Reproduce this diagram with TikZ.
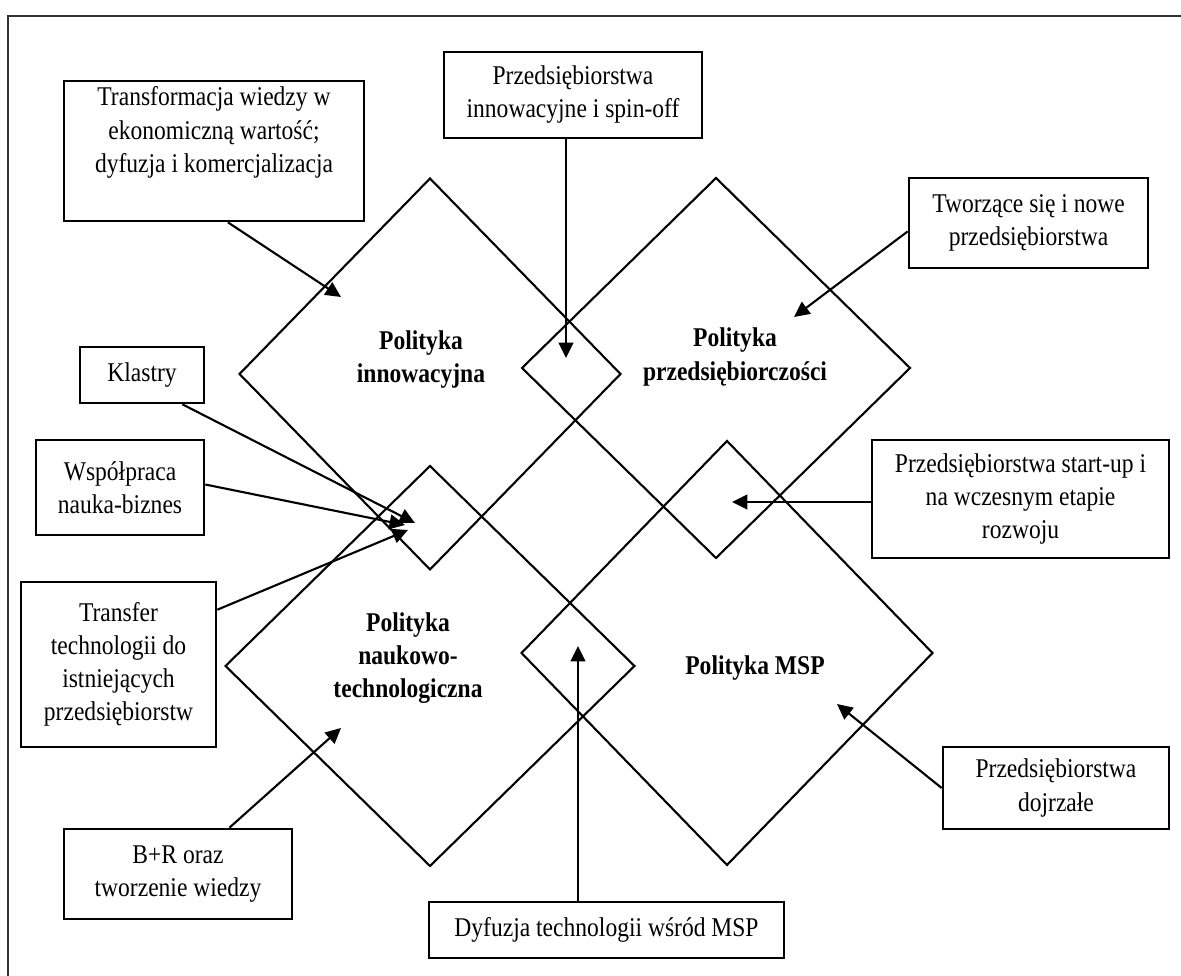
\documentclass[tikz,border=0pt]{standalone}
\usepackage{fontspec}
\setmainfont{Liberation Serif}[FakeStretch=0.87]
\usetikzlibrary{shapes.geometric, arrows.meta}

\begin{document}
\begin{tikzpicture}[font=\fontsize{7.7}{9.4}\selectfont,
  blok/.style={draw, line width=0.75pt, rectangle, inner sep=0pt, align=center},
  romb/.style={draw, line width=0.6pt, diamond, inner sep=0pt, outer sep=0pt},
  napis/.style={font=\fontsize{7.7}{9.4}\selectfont\bfseries, align=center},
  strzalka/.style={-{Triangle[length=4.4pt, width=4.2pt]}, line width=0.6pt}]
  \useasboundingbox (0,0) rectangle (11.81,9.76);
  % ramka
  \draw[black!80, line width=0.7pt] (0.08,0) -- (0.08,9.60) -- (11.81,9.60);
  % cztery polityki
  \node[romb, minimum width=3.81cm, minimum height=3.91cm] (inn) at (4.30,6.02) {};
  \node[romb, minimum width=3.88cm, minimum height=3.80cm] (prz) at (7.16,6.08) {};
  \node[romb, minimum width=4.09cm, minimum height=4.00cm] (nauk) at (4.30,3.10) {};
  \node[romb, minimum width=4.11cm, minimum height=4.24cm] (msp) at (7.27,3.23) {};
  \node[napis] (innT) at (4.21,6.16) {Polityka\\innowacyjna};
  \node[napis] (przT) at (7.35,6.19) {Polityka\\przedsiębiorczości};
  \node[napis] (naukT) at (4.08,3.18) {Polityka\\naukowo-\\technologiczna};
  \node[napis] (mspT) at (7.55,3.08) {Polityka MSP};
  % bloki
  \node[blok, minimum width=3.00cm, minimum height=1.40cm] (trans) at (2.14,8.25)
    {Transformacja wiedzy w\\ekonomiczną wartość;\\dyfuzja i komercjalizacja\\\strut};
  \node[blok, minimum width=2.58cm, minimum height=0.86cm] (spin) at (5.73,8.81)
    {Przedsiębiorstwa\\innowacyjne i spin-off};
  \node[blok, minimum width=2.39cm, minimum height=0.90cm] (nowe) at (10.285,7.53)
    {Tworzące się i nowe\\przedsiębiorstwa};
  \node[blok, minimum width=1.24cm, minimum height=0.56cm] (klastry) at (1.42,6.01) {Klastry};
  \node[blok, minimum width=1.68cm, minimum height=0.95cm] (wspol) at (1.20,4.885)
    {Współpraca\\nauka-biznes};
  \node[blok, minimum width=1.95cm, minimum height=1.65cm] (transfer) at (1.185,3.115)
    {Transfer\\technologii do\\istniejących\\przedsiębiorstw};
  \node[blok, minimum width=2.97cm, minimum height=1.18cm] (startup) at (10.205,4.77)
    {Przedsiębiorstwa start-up i\\na wczesnym etapie\\rozwoju};
  \node[blok, minimum width=2.26cm, minimum height=0.82cm] (dojrz) at (10.56,1.88)
    {Przedsiębiorstwa\\dojrzałe};
  \node[blok, minimum width=2.28cm, minimum height=0.90cm] (br) at (1.78,1.02)
    {B+R oraz\\tworzenie wiedzy};
  \node[blok, minimum width=3.55cm, minimum height=0.56cm] (dyf) at (6.065,0.46)
    {Dyfuzja technologii wśród MSP};
  % groty strzalek
  \coordinate (tTrans) at (3.41,6.79);
  \coordinate (tSpin) at (5.66,6.18);
  \coordinate (tNowe) at (7.94,6.59);
  \coordinate (tKlastry) at (4.15,4.53);
  \coordinate (tWspol) at (4.05,4.51);
  \coordinate (tTransfer) at (4.08,4.46);
  \coordinate (tStart) at (7.32,4.74);
  \coordinate (tDojrz) at (8.37,2.72);
  \coordinate (tBR) at (3.41,2.48);
  \coordinate (tDyf) at (5.78,3.30);
  % strzalki
  \draw[strzalka] (trans.-79) -- (tTrans);
  \draw[strzalka] (tSpin |- spin.south) -- (tSpin);
  \draw[strzalka] (nowe.184) -- (tNowe);
  \draw[strzalka] (klastry.-36) -- (tKlastry);
  \draw[strzalka] (wspol.2) -- (tWspol);
  \draw[strzalka] (transfer.29) -- (tTransfer);
  \draw[strzalka] (startup.west |- tStart) -- (tStart);
  \draw[strzalka] (dojrz.west) -- (tDojrz);
  \draw[strzalka] (br.42) -- (tBR);
  \draw[strzalka] (tDyf |- dyf.north) -- (tDyf);
\end{tikzpicture}
\end{document}
